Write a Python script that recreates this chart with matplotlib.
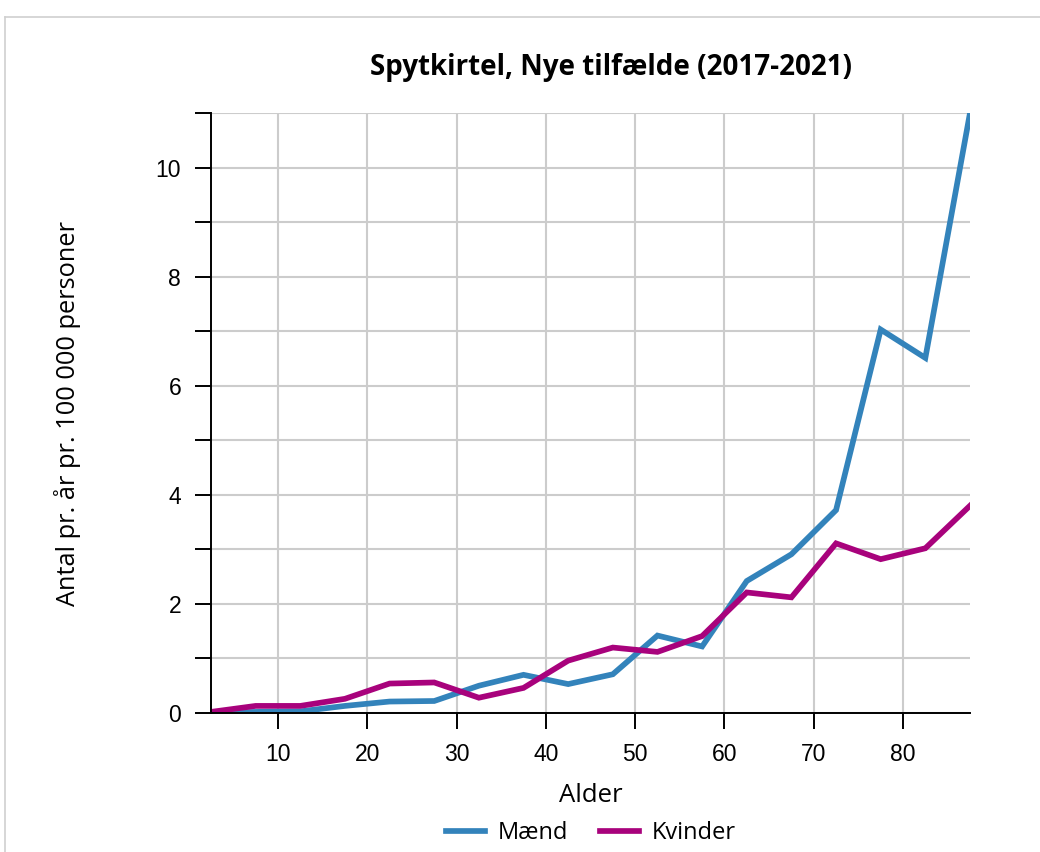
import numpy as np
import matplotlib.pyplot as plt
from matplotlib.lines import Line2D
from matplotlib.ticker import MultipleLocator

# aldersgrupper (midtpunkt)
alder = [2.5, 7.5, 12.5, 17.5, 22.5, 27.5, 32.5, 37.5, 42.5, 47.5,
         52.5, 57.5, 62.5, 67.5, 72.5, 77.5, 82.5, 87.5]
maend = [0.0, 0.02, 0.03, 0.13, 0.21, 0.22, 0.50, 0.70, 0.53, 0.71,
         1.42, 1.22, 2.42, 2.91, 3.72, 7.03, 6.51, 11.0]
kvinder = [0.02, 0.13, 0.13, 0.26, 0.54, 0.56, 0.28, 0.46, 0.96, 1.20,
           1.12, 1.41, 2.21, 2.12, 3.11, 2.82, 3.02, 3.80]

blue = "#3383bb"
pink = "#a8027c"

fig = plt.figure(figsize=(10.4, 8.52), dpi=100)
ax = fig.add_axes([211 / 1040, 1 - 713 / 852, (970 - 211) / 1040, (713 - 113) / 852])

ax.plot(alder, maend, color=blue, lw=4.1, label="Mænd", solid_joinstyle="miter")
ax.plot(alder, kvinder, color=pink, lw=4.1, label="Kvinder", solid_joinstyle="miter")

ax.set_xlim(2.5, 87.5)
ax.set_ylim(0, 11)
ax.set_xticks([10, 20, 30, 40, 50, 60, 70, 80])
ax.yaxis.set_major_locator(MultipleLocator(2))
ax.yaxis.set_minor_locator(MultipleLocator(1))
ax.grid(True, which="both", axis="y", color="#cccccc", lw=1.5)
ax.grid(True, which="major", axis="x", color="#cccccc", lw=1.5)
ax.set_axisbelow(True)

for s in ["top", "right"]:
    ax.spines[s].set_visible(False)
for s in ["left", "bottom"]:
    ax.spines[s].set_linewidth(1.4)
    ax.spines[s].set_color("black")

ax.tick_params(which="both", direction="out", length=11.5, width=1.4, color="black")
ax.tick_params(labelsize=16.5, pad=10)
for lab in ax.get_xticklabels() + ax.get_yticklabels():
    lab.set_family("Liberation Sans")

ax.set_xlabel("Alder", fontsize=18.5, family="Open Sans")
ax.xaxis.set_label_coords(0.5, -(795 - 713) / 600, transform=ax.transAxes)
ax.xaxis.label.set_va("center")
ax.set_ylabel("Antal pr. år pr. 100 000 personer", fontsize=18.3, family="Open Sans")
ax.yaxis.set_label_coords(-(211 - 68) / 759, 0.5)
ax.yaxis.label.set_va("center")

fig.text(611 / 1040, 1 - 67 / 852, "Spytkirtel, Nye tilfælde (2017-2021)", fontsize=20,
         fontweight="bold", family="Open Sans", ha="center", va="center")

leg = fig.legend(loc="center", bbox_to_anchor=(591 / 1040, 1 - 833 / 852), ncol=2, frameon=False,
                 prop={"family": "Open Sans", "size": 17}, handlelength=1.65, columnspacing=1.35,
                 handletextpad=0.55, borderpad=0, borderaxespad=0)

# ramme omkring figuren
fig.add_artist(Line2D([5 / 1040, 5 / 1040], [0, 1 - 17 / 852], transform=fig.transFigure,
                      color="#d0d0d0", lw=1.2))
fig.add_artist(Line2D([5 / 1040, 1], [1 - 17 / 852, 1 - 17 / 852], transform=fig.transFigure,
                      color="#d0d0d0", lw=1.2))

fig.savefig("out.png", dpi=100)
